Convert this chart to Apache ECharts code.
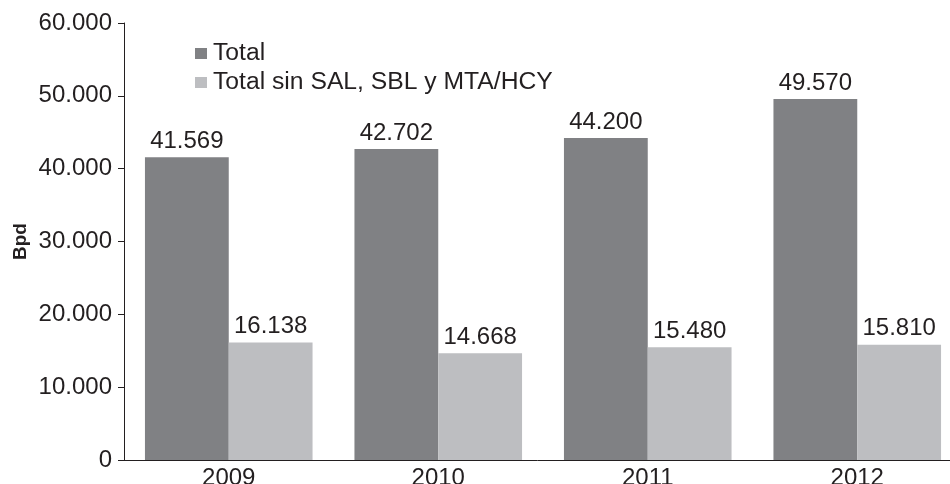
<!DOCTYPE html>
<html>
<head>
<meta charset="UTF-8">
<title>Bpd 2009-2012</title>
<script src="https://cdn.jsdelivr.net/npm/echarts@6/dist/echarts.min.js"></script>
</head>
<body style="margin:0">
<div id="main" style="width: 950px;height:484px;"></div>
<script type="text/javascript">
var years = ['2009', '2010', '2011', '2012'];
var total = [41569, 42702, 44200, 49570];
var totalSin = [16138, 14668, 15480, 15810];
var seriesNames = ['Total', 'Total sin SAL, SBL y MTA/HCY'];

function fmt(v) {
  return String(v).replace(/\B(?=(\d{3})+(?!\d))/g, '.');
}

var myChart = echarts.init(document.getElementById('main'));
var txt = { fontFamily: 'Liberation Sans', fontSize: 24, color: '#231f20' };

var option = {
  animation: false,
  textStyle: { fontFamily: 'Liberation Sans' },
  grid: { left: 124, top: 23, width: 838, bottom: 24, outerBoundsMode: 'none', containLabel: false },
  legend: {
    orient: 'vertical',
    left: 190,
    top: 36,
    itemWidth: 12,
    itemHeight: 11,
    itemGap: 4,
    icon: 'rect',
    textStyle: { fontFamily: 'Liberation Sans', fontSize: 24.7, color: '#231f20', padding: [0, 0, 0, 1] },
    data: seriesNames
  },
  xAxis: {
    type: 'category',
    data: years,
    axisLine: { lineStyle: { color: '#231f20', width: 1 } },
    axisTick: { length: 6, lineStyle: { color: '#231f20' } },
    axisLabel: Object.assign({ margin: 6 }, txt)
  },
  yAxis: {
    type: 'value',
    min: 0,
    max: 60000,
    interval: 10000,
    name: 'Bpd',
    nameLocation: 'middle',
    nameRotate: 90,
    nameGap: 94,
    nameMoveOverlap: false,
    nameTextStyle: { fontFamily: 'Liberation Sans', fontSize: 19, fontWeight: 'bold', color: '#231f20' },
    axisLine: { show: true, lineStyle: { color: '#231f20', width: 1 } },
    axisTick: { show: true, length: 6, lineStyle: { color: '#231f20' } },
    splitLine: { show: false },
    axisLabel: Object.assign({ margin: 12, formatter: fmt }, txt)
  },
  series: [
    {
      name: seriesNames[0],
      type: 'bar',
      data: total,
      barGap: '0%',
      barCategoryGap: '20%',
      itemStyle: { color: '#808184' },
      label: Object.assign({ show: true, position: 'top', distance: 4, formatter: function (p) { return fmt(p.value); } }, txt)
    },
    {
      name: seriesNames[1],
      type: 'bar',
      data: totalSin,
      barGap: '0%',
      barCategoryGap: '20%',
      itemStyle: { color: '#bdbec1' },
      label: Object.assign({ show: true, position: 'top', distance: 4, formatter: function (p) { return fmt(p.value); } }, txt)
    }
  ]
};

myChart.setOption(option);
</script>
</body>
</html>
